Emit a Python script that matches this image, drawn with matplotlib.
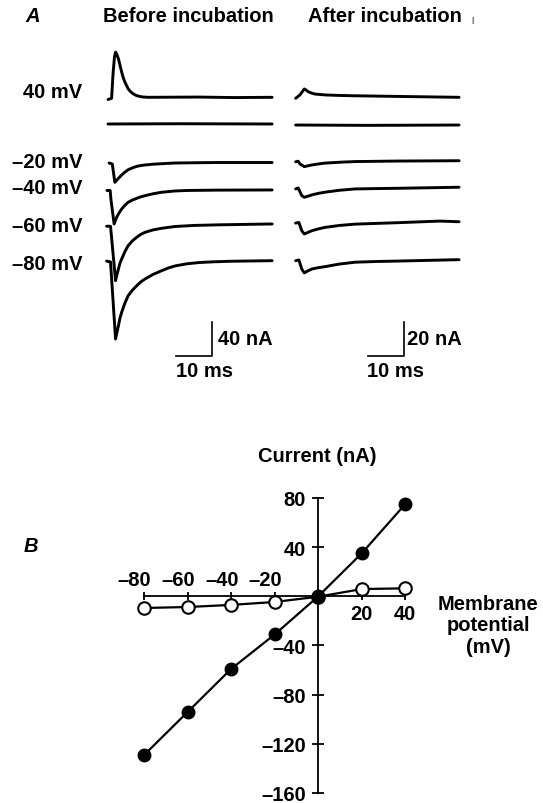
import matplotlib
matplotlib.use("Agg")
import matplotlib.pyplot as plt

plt.rcParams['font.family'] = ['Liberation Sans', 'DejaVu Sans']
plt.rcParams['font.weight'] = 'bold'

W, H = 543, 804
FS = 14.5

# ---------------- Panel A data: (time ms, current nA relative to baseline) ----------------
voltage_labels = ['40 mV', '–20 mV', '–40 mV', '–60 mV', '–80 mV']

before_p40 = [(0.0, -2.6), (1.0, -1.2), (1.4, 27.6), (1.8, 47.6), (2.1, 53.2), (2.4, 51.0),
              (2.9, 45.3), (3.4, 36.5), (3.8, 29.6), (4.2, 23.5), (4.7, 17.9), (5.2, 13.5),
              (5.6, 10.0), (6.3, 6.5), (7.0, 4.1), (7.7, 2.5), (8.4, 1.4), (9.6, 0.4),
              (11.2, 0.0), (25.0, 0.3), (35.0, -0.3), (45.6, 0.0)]
before_0 = [(0.0, 0.0), (20.0, 0.3), (45.6, 0.0)]
before_m20 = [(0.3, -0.6), (1.2, -1.8), (1.9, -23.3), (2.4, -21.0), (2.9, -18.6), (3.8, -14.7),
              (4.7, -11.3), (5.6, -8.5), (6.8, -6.3), (8.0, -4.5), (9.1, -3.6), (10.3, -2.9),
              (12.5, -2.0), (14.9, -1.4), (18.6, -0.6), (24.0, -0.3), (30.0, 0.0), (45.6, 0.0)]
before_m40 = [(-0.3, -0.6), (0.6, -0.6), (0.8, -10.6), (1.7, -40.0), (2.4, -32.1), (3.1, -26.8),
              (3.8, -22.4), (4.7, -18.0), (5.6, -14.5), (6.8, -11.8), (8.0, -9.8), (9.1, -8.1),
              (10.3, -6.7), (12.5, -4.5), (14.9, -2.7), (18.6, -1.2), (22.0, -0.6),
              (30.0, -0.2), (45.6, 0.0)]
before_m60 = [(-0.4, -2.7), (0.7, -2.7), (2.1, -66.7), (2.5, -59.5), (2.9, -52.9), (3.3, -46.5),
              (3.8, -41.2), (4.7, -32.5), (5.6, -25.5), (6.8, -19.8), (8.0, -15.6),
              (9.1, -12.3), (10.3, -9.8), (12.5, -7.0), (14.9, -5.1), (18.6, -3.0),
              (24.0, -1.7), (31.0, -1.0), (45.6, 0.0)]
before_m80 = [(-0.4, -0.4), (0.7, -1.5), (2.1, -92.1), (2.5, -84.0), (2.9, -76.5), (3.3, -68.0),
              (3.8, -60.7), (4.7, -49.8), (5.6, -41.2), (6.8, -34.6), (8.0, -29.4),
              (9.1, -25.0), (10.3, -21.5), (12.5, -16.2), (14.9, -11.8), (16.7, -8.7),
              (18.6, -6.2), (22.0, -3.6), (25.6, -2.1), (29.5, -1.3), (33.9, -0.7),
              (45.6, 0.0)]

after_p40 = [(-0.1, -0.6), (1.1, 1.4), (1.8, 3.5), (2.3, 4.9), (2.8, 4.3), (3.4, 3.3),
             (4.3, 2.5), (5.3, 1.9), (8.1, 1.4), (12.0, 1.1), (16.4, 0.9), (28.9, 0.5),
             (45.3, 0.0)]
after_0 = [(-0.1, 0.0), (20.0, -0.2), (45.3, 0.0)]
after_m20 = [(-0.1, -0.6), (0.6, -0.3), (1.1, -1.9), (2.3, -3.5), (3.3, -3.0), (4.4, -2.5),
             (6.2, -1.9), (8.1, -1.4), (12.0, -0.9), (16.4, -0.5), (28.0, -0.2), (45.3, 0.0)]
after_m40 = [(-0.1, -1.0), (0.6, -0.4), (1.6, -4.9), (2.3, -5.9), (3.3, -5.3), (4.4, -4.5),
             (6.2, -3.6), (8.1, -2.9), (12.0, -1.8), (16.4, -1.0), (22.0, -0.8), (28.9, -0.6),
             (45.3, 0.0)]
after_m60 = [(-0.1, -0.8), (0.8, -0.4), (1.6, -5.3), (2.3, -7.2), (3.3, -6.3), (4.4, -5.3),
             (6.2, -4.2), (8.1, -3.3), (12.0, -2.2), (16.4, -1.4), (22.0, -1.0), (28.9, -0.5),
             (40.0, 0.4), (45.3, 0.0)]
after_m80 = [(-0.1, -0.6), (0.8, -0.2), (1.6, -5.5), (2.3, -7.8), (3.3, -6.6), (4.4, -5.5),
             (6.2, -4.7), (8.1, -4.1), (12.0, -2.6), (16.4, -1.5), (22.0, -1.1), (28.9, -0.8),
             (45.3, 0.0)]

scale_time_ms = 10
scale_before_nA = 40
scale_after_nA = 20

# ---------------- Panel B data ----------------
membrane_potential = [-80, -60, -40, -20, 0, 20, 40]
current_before = [-129, -94, -59, -31, 0, 35, 75]
current_after = [-9.5, -8.7, -7.0, -4.6, -0.3, 5.9, 6.5]
x_ticks = [-80, -60, -40, -20, 20, 40]
x_tick_labels = ['–80', '–60', '–40', '–20', '20', '40']
y_ticks = [-160, -120, -80, -40, 40, 80]
y_tick_labels = ['–160', '–120', '–80', '–40', '40', '80']

# ---------------- figure ----------------
fig = plt.figure(figsize=(W / 100, H / 100), dpi=100)


def px(x, y):
    return x / W, 1 - y / H


def box(x0, y0, x1, y1):
    return [x0 / W, 1 - y1 / H, (x1 - x0) / W, (y1 - y0) / H]


TRACE_LW = 2.1

# left (before) traces axes
axL = fig.add_axes(box(100, 40, 280, 380))
axL.set_xlim(-2.222, 47.78)
axL.set_ylim(-300, 100)
axL.axis('off')
before_traces = [before_p40, before_0, before_m20, before_m40, before_m60, before_m80]
before_offsets = [31.4, 0.0, -45.3, -77.6, -117.6, -160.8]
for tr, off in zip(before_traces, before_offsets):
    t = [p[0] for p in tr]
    i = [p[1] + off for p in tr]
    axL.plot(t, i, color='black', lw=TRACE_LW, solid_capstyle='round', solid_joinstyle='round')
# scale bar
sb_t0, sb_y0 = 18.9, -273.3
axL.plot([sb_t0, sb_t0 + scale_time_ms, sb_t0 + scale_time_ms],
         [sb_y0, sb_y0, sb_y0 + scale_before_nA], color='black', lw=1.2)

# right (after) traces axes
axR = fig.add_axes(box(288, 40, 468, 380))
axR.set_xlim(-2.222, 47.78)
axR.set_ylim(-149.4, 50.6)
axR.axis('off')
after_traces = [after_p40, after_0, after_m20, after_m40, after_m60, after_m80]
after_offsets = [16.3, 0.0, -21.0, -36.6, -56.9, -79.2]
for tr, off in zip(after_traces, after_offsets):
    t = [p[0] for p in tr]
    i = [p[1] + off for p in tr]
    axR.plot(t, i, color='black', lw=TRACE_LW, solid_capstyle='round', solid_joinstyle='round')
sb_t0r, sb_y0r = 20.0, -136.0
axR.plot([sb_t0r, sb_t0r + scale_time_ms, sb_t0r + scale_time_ms],
         [sb_y0r, sb_y0r, sb_y0r + scale_after_nA], color='black', lw=1.2)

# panel A texts
fig.text(*px(33, 17), 'A', fontsize=FS, style='italic', ha='center', va='center')
fig.text(*px(103, 17), 'Before incubation', fontsize=FS, ha='left', va='center')
fig.text(*px(308, 17), 'After incubation', fontsize=FS, ha='left', va='center')
fig.text(*px(473, 21), '|', fontsize=6, ha='center', va='center', color='#555555')
label_y = [92, 162, 189, 226, 264]
for lab, yy in zip(voltage_labels, label_y):
    fig.text(*px(82, yy), lab, fontsize=FS, ha='right', va='center')
fig.text(*px(218, 340), f'{scale_before_nA} nA', fontsize=FS, ha='left', va='center')
fig.text(*px(176, 372), f'{scale_time_ms} ms', fontsize=FS, ha='left', va='center')
fig.text(*px(407, 340), f'{scale_after_nA} nA', fontsize=FS, ha='left', va='center')
fig.text(*px(367, 372), f'{scale_time_ms} ms', fontsize=FS, ha='left', va='center')

# ---------------- Panel B ----------------
axB = fig.add_axes(box(122.5, 486.7, 427.0, 800.1))
axB.set_xlim(-90, 50)
axB.set_ylim(-165, 90)
axB.patch.set_alpha(0)
for s in ['top', 'right']:
    axB.spines[s].set_visible(False)
axB.spines['left'].set_position(('data', 0))
axB.spines['bottom'].set_position(('data', 0))
axB.spines['left'].set_bounds(-160, 80)
axB.spines['bottom'].set_bounds(-80, 40)
axB.spines['left'].set_linewidth(1.3)
axB.spines['bottom'].set_linewidth(1.3)
axB.set_yticks(y_ticks)
axB.set_yticklabels(y_tick_labels, fontsize=FS)
axB.set_xticks(x_ticks)
axB.set_xticklabels([])
axB.tick_params(axis='y', direction='inout', length=8, width=1.3, pad=5)
axB.tick_params(axis='x', direction='inout', length=6, width=1.3)

axB.plot(membrane_potential, current_after, color='black', lw=1.6, marker='o', ms=9,
         mfc='white', mec='black', mew=1.5, zorder=3, clip_on=False)
axB.plot(membrane_potential, current_before, color='black', lw=1.6, marker='o', ms=9,
         mfc='black', mec='black', zorder=4, clip_on=False)

for xv, lab in zip(x_ticks, x_tick_labels):
    if xv < 0:
        axB.text(xv + 3.3, 13.5, lab, fontsize=FS, ha='right', va='center')
    else:
        axB.text(xv, -14, lab, fontsize=FS, ha='center', va='center')

fig.text(*px(317, 457), 'Current (nA)', fontsize=FS, ha='center', va='center')
fig.text(*px(488, 626), 'Membrane\npotential\n(mV)', fontsize=FS, ha='center', va='center',
         linespacing=1.15)
fig.text(*px(31, 547), 'B', fontsize=FS, style='italic', ha='center', va='center')

fig.savefig('out.png', dpi=100)
